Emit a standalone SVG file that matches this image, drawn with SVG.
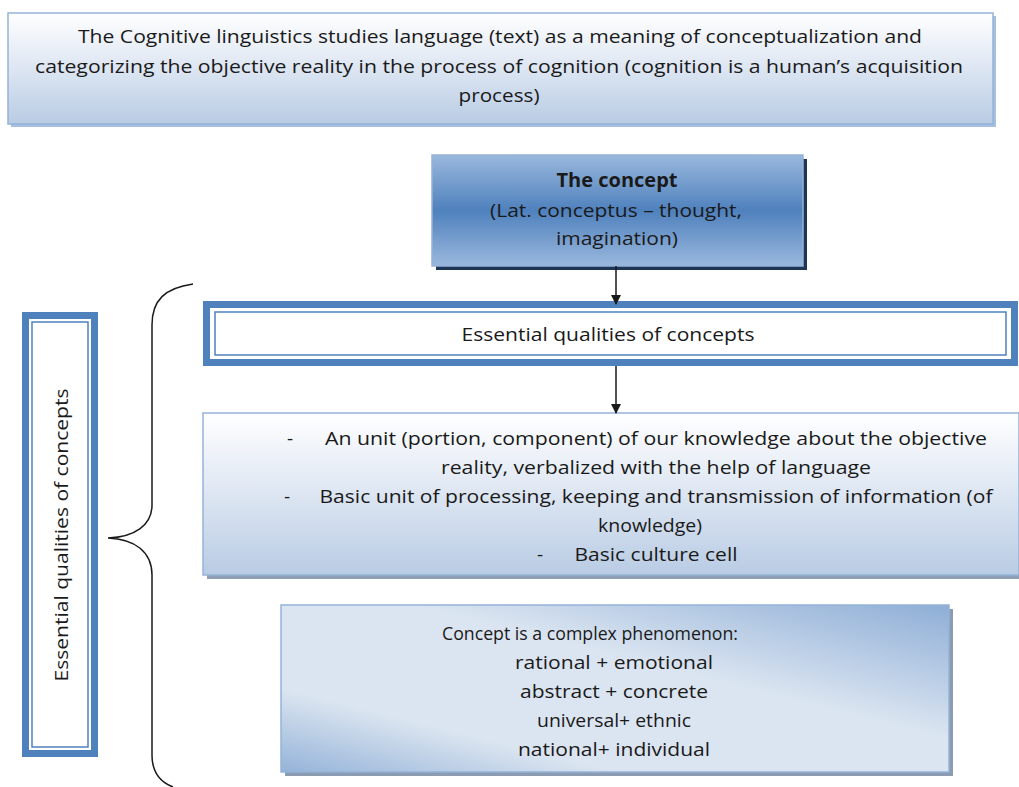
<svg xmlns="http://www.w3.org/2000/svg" width="1019" height="787" viewBox="0 0 1019 787">
<defs>
<linearGradient id="gTop" x1="0" y1="0" x2="0" y2="1">
<stop offset="0" stop-color="#ffffff"/><stop offset="0.4" stop-color="#e4ebf5"/><stop offset="1" stop-color="#b9cce4"/>
</linearGradient>
<linearGradient id="gConcept" x1="0" y1="0" x2="0" y2="1">
<stop offset="0" stop-color="#9ab8dd"/><stop offset="0.5" stop-color="#4f81bd"/><stop offset="1" stop-color="#9ab8dd"/>
</linearGradient>
<linearGradient id="gLast" x1="0" y1="1" x2="1" y2="0">
<stop offset="0" stop-color="#94b3d8"/><stop offset="0.25" stop-color="#dbe5f1"/><stop offset="0.6" stop-color="#dbe5f1"/><stop offset="1" stop-color="#8eaed6"/>
</linearGradient>
<marker id="arr" markerWidth="10" markerHeight="10" refX="9" refY="5" orient="auto" markerUnits="userSpaceOnUse">
<path d="M0,0 L10,5 L0,10 Z" fill="#1a1a1a"/>
</marker>
<style>
text{font-family:"Open Sans","Liberation Sans",sans-serif;fill:#1a1a1a;text-anchor:middle}
.t20{font-size:19px}
.b{font-weight:bold}
</style>
</defs>

<g id="top-box">
<rect x="11" y="16" width="985" height="111" fill="#a6bfe2"/>
<rect x="8" y="13" width="985" height="111" fill="url(#gTop)" stroke="#95b3d7" stroke-width="1.5"/>
<text class="t20" x="500" y="43" textLength="844" lengthAdjust="spacingAndGlyphs">The Cognitive linguistics studies language (text) as a meaning of conceptualization and</text>
<text class="t20" x="499" y="73" textLength="928" lengthAdjust="spacingAndGlyphs">categorizing the objective reality in the process of cognition (cognition is a human’s acquisition</text>
<text class="t20" x="499" y="102" textLength="81" lengthAdjust="spacingAndGlyphs">process)</text>
</g>

<g id="concept">
<rect x="436" y="159" width="371" height="111" fill="#1f3555"/>
<rect x="432" y="155" width="371" height="111" fill="url(#gConcept)" stroke="#95b3d7" stroke-width="1.5"/>
<text class="t20 b" x="617" y="187" textLength="121" lengthAdjust="spacingAndGlyphs">The concept</text>
<text class="t20" x="616" y="217" textLength="252" lengthAdjust="spacingAndGlyphs">(Lat. conceptus – thought,</text>
<text class="t20" x="617" y="245" textLength="122" lengthAdjust="spacingAndGlyphs">imagination)</text>
</g>

<g id="essential">
<rect x="206.5" y="304.5" width="808" height="58" fill="#ffffff" stroke="#4f81bd" stroke-width="7"/>
<rect x="215" y="312" width="791" height="43" fill="none" stroke="#4f81bd" stroke-width="1.5"/>
<text class="t20" x="608" y="341" textLength="293" lengthAdjust="spacingAndGlyphs">Essential qualities of concepts</text>
</g>

<g id="bullets">
<rect x="207" y="417" width="814" height="162" fill="#8f9fb5"/>
<rect x="203" y="413" width="816" height="162" fill="url(#gTop)" stroke="#95b3d7" stroke-width="1.5"/>
<text class="t20" x="290" y="445">-</text>
<text class="t20" x="656" y="445" textLength="662" lengthAdjust="spacingAndGlyphs">An unit (portion, component) of our knowledge about the objective</text>
<text class="t20" x="656" y="474" textLength="430" lengthAdjust="spacingAndGlyphs">reality, verbalized with the help of language</text>
<text class="t20" x="287" y="503">-</text>
<text class="t20" x="656" y="503" textLength="673" lengthAdjust="spacingAndGlyphs">Basic unit of processing, keeping and transmission of information (of</text>
<text class="t20" x="650" y="532" textLength="104" lengthAdjust="spacingAndGlyphs">knowledge)</text>
<text class="t20" x="540" y="561">-</text>
<text class="t20" x="656" y="561" textLength="163" lengthAdjust="spacingAndGlyphs">Basic culture cell</text>
</g>

<g id="complex">
<rect x="285" y="609" width="668" height="167" fill="#8a9bb2"/>
<rect x="281" y="605" width="668" height="167" fill="url(#gLast)" stroke="#95b3d7" stroke-width="1.5"/>
<text class="t20" x="590" y="640" textLength="296" lengthAdjust="spacingAndGlyphs">Concept is a complex phenomenon:</text>
<text class="t20" x="614" y="669" textLength="198" lengthAdjust="spacingAndGlyphs">rational + emotional</text>
<text class="t20" x="614" y="698" textLength="188" lengthAdjust="spacingAndGlyphs">abstract + concrete</text>
<text class="t20" x="614" y="727" textLength="154" lengthAdjust="spacingAndGlyphs">universal+ ethnic</text>
<text class="t20" x="614" y="756" textLength="192" lengthAdjust="spacingAndGlyphs">national+ individual</text>
</g>

<g id="side-label">
<rect x="25.5" y="315.5" width="69" height="438" fill="#ffffff" stroke="#4f81bd" stroke-width="7"/>
<rect x="32" y="322" width="56" height="425" fill="none" stroke="#4f81bd" stroke-width="1.5"/>
<text class="t20" transform="translate(68,535) rotate(-90)" textLength="293" lengthAdjust="spacingAndGlyphs">Essential qualities of concepts</text>
</g>

<g id="connectors" fill="none" stroke="#1a1a1a" stroke-width="1.5">
<line x1="616" y1="266" x2="616" y2="304" marker-end="url(#arr)"/>
<line x1="616" y1="366" x2="616" y2="413" marker-end="url(#arr)"/>
<path d="M193,284 C165,288 152,300 152,325 L152,505 C152,525 135,537 108,538 C135,539 152,552 152,575 L152,755 C152,772 160,782 173,787"/>
</g>
</svg>
